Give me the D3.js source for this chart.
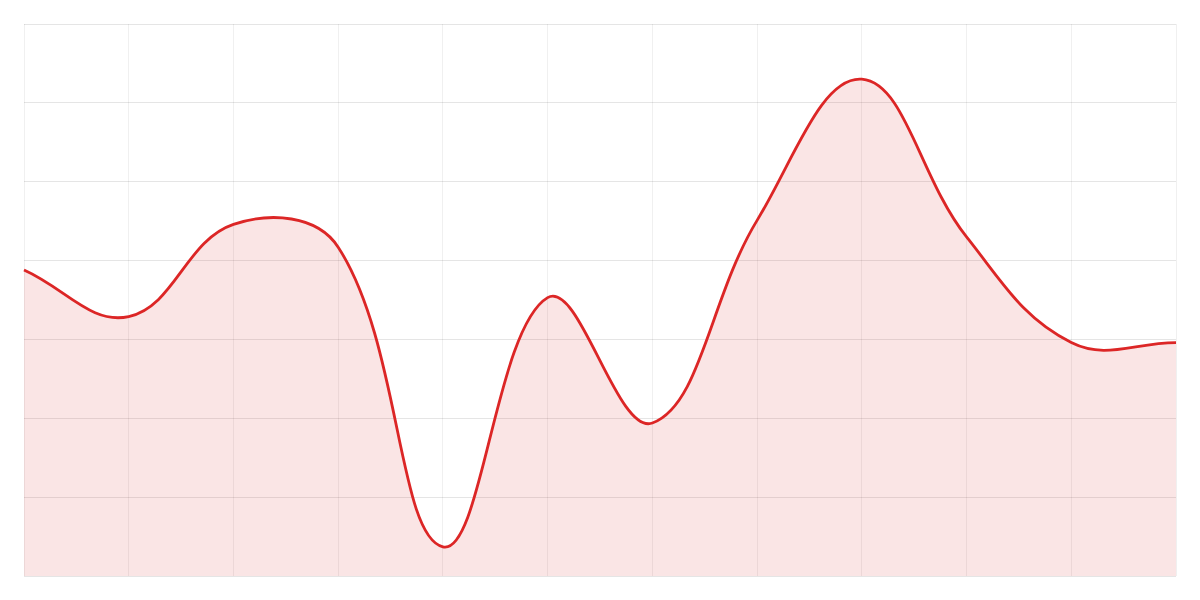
<!DOCTYPE html>
<meta charset="utf-8">
<style>
  body { margin: 0; background: #fff; }
  svg { display: block; font-family: "Helvetica", "Arial", sans-serif; }
  .grid line { shape-rendering: crispEdges; }
</style>
<svg id="chart" width="1200" height="600"></svg>
<script src="https://d3js.org/d3.v7.min.js"></script>
<script>
// data, one value per vertical grid line
var categories = d3.range(12);
var values = [38.8, 32.9, 44.6, 41.7, 3.7, 35.3, 19.4, 45.1, 63.0, 43.0, 29.6, 29.6];
var yTicks = [0, 10, 20, 30, 40, 50, 60, 70];

var plotLeft = 24, plotRight = 1176, plotTop = 24, plotBottom = 576;

var svg = d3.select("#chart");

var x = d3.scalePoint().domain(categories).range([plotLeft, plotRight]);
var y = d3.scaleLinear().domain([0, 70]).range([plotBottom, plotTop]);

// spline like the one in the source chart: tension 0.4, weighted by point distance
function splineCurve(tension) {
  function Spline(context) { this._context = context; }
  Spline.prototype = {
    areaStart: function() { this._line = 0; },
    areaEnd: function() { this._line = NaN; },
    lineStart: function() { this._pts = []; },
    point: function(px, py) { this._pts.push([+px, +py]); },
    lineEnd: function() {
      var p = this._pts, c = this._context, n = p.length;
      if (!n) return;
      if (this._line) c.lineTo(p[0][0], p[0][1]); else c.moveTo(p[0][0], p[0][1]);
      var clampY = function(v) { return Math.max(plotTop, Math.min(plotBottom, v)); };
      var cps = p.map(function(pt, i) {
        var a = p[Math.max(i - 1, 0)], b = p[Math.min(i + 1, n - 1)];
        var d01 = Math.hypot(pt[0] - a[0], pt[1] - a[1]),
            d12 = Math.hypot(b[0] - pt[0], b[1] - pt[1]);
        var s01 = d01 / (d01 + d12), s12 = d12 / (d01 + d12);
        if (isNaN(s01)) s01 = 0;
        if (isNaN(s12)) s12 = 0;
        var fa = tension * s01, fb = tension * s12;
        return {
          prev: [pt[0] - fa * (b[0] - a[0]), clampY(pt[1] - fa * (b[1] - a[1]))],
          next: [pt[0] + fb * (b[0] - a[0]), clampY(pt[1] + fb * (b[1] - a[1]))]
        };
      });
      for (var i = 1; i < n; i++) {
        c.bezierCurveTo(cps[i - 1].next[0], cps[i - 1].next[1],
                        cps[i].prev[0], cps[i].prev[1], p[i][0], p[i][1]);
      }
      if (this._line || (this._line !== 0 && n === 1)) c.closePath();
      this._line = 1 - this._line;
    }
  };
  return function(context) { return new Spline(context); };
}

var curve = splineCurve(0.4);

// grid
var grid = svg.append("g").attr("class", "grid");
grid.selectAll(".v").data(categories).enter().append("line")
  .attr("class", "v")
  .attr("x1", function(d) { return x(d); }).attr("x2", function(d) { return x(d); })
  .attr("y1", plotTop).attr("y2", plotBottom)
  .attr("stroke", "rgba(0,0,0,0.06)");
grid.selectAll(".h").data(yTicks).enter().append("line")
  .attr("class", "h")
  .attr("x1", plotLeft).attr("x2", plotRight)
  .attr("y1", function(d) { return y(d); }).attr("y2", function(d) { return y(d); })
  .attr("stroke", "rgba(0,0,0,0.1)");

var area = d3.area()
  .x(function(d, i) { return x(categories[i]); })
  .y0(y(0))
  .y1(function(d) { return y(d); })
  .curve(curve);

var line = d3.line()
  .x(function(d, i) { return x(categories[i]); })
  .y(function(d) { return y(d); })
  .curve(curve);

svg.append("path")
  .datum(values)
  .attr("d", area)
  .attr("fill", "rgba(215,40,40,0.12)");

svg.append("path")
  .datum(values)
  .attr("d", line)
  .attr("fill", "none")
  .attr("stroke", "#dc2626")
  .attr("stroke-width", 2.8)
  .attr("stroke-linejoin", "round");
</script>
